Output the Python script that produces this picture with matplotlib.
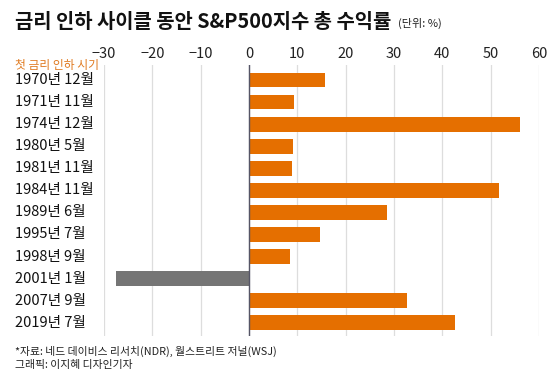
import matplotlib
matplotlib.use("Agg")
import matplotlib.pyplot as plt
import matplotlib.transforms as mtrans

plt.rcParams['font.family'] = ['Noto Sans CJK KR', 'DejaVu Sans']
plt.rcParams['axes.unicode_minus'] = True

categories = ["1970년 12월", "1971년 11월", "1974년 12월", "1980년 5월", "1981년 11월",
              "1984년 11월", "1989년 6월", "1995년 7월", "1998년 9월", "2001년 1월",
              "2007년 9월", "2019년 7월"]
values = [15.8, 9.4, 56.1, 9.1, 8.8, 51.7, 28.5, 14.6, 8.5, -27.6, 32.6, 42.7]
xticks = [-30, -20, -10, 0, 10, 20, 30, 40, 50, 60]

ORANGE = "#E56F00"
GREY = "#757575"

fig = plt.figure(figsize=(5.6, 3.81), dpi=100)
ax = fig.add_axes([104/560, 1-336/381, (539-104)/560, (336-65)/381])

colors = [ORANGE if v >= 0 else GREY for v in values]
ypos = list(range(len(categories)))
ax.barh(ypos, values, height=0.67, color=colors, zorder=3)

ax.set_xlim(-30, 60)
ax.set_ylim(len(categories) - 0.4, -0.68)
ax.set_xticks(xticks)
ax.set_xticklabels([f"{t}".replace("-", "\u2212") for t in xticks])
ax.xaxis.tick_top()
ax.tick_params(axis='x', length=0, pad=3, labelsize=10.5, labelcolor="#222222")
ax.set_yticks([])

trans = mtrans.blended_transform_factory(fig.transFigure, ax.transData)
for y, lab in zip(ypos, categories):
    ax.text(15/560, y, lab, transform=trans, ha='left', va='center',
            fontsize=10.5, color="#111111", clip_on=False)

ax.grid(axis='x', color="#DDDDDD", linewidth=0.9, zorder=0)
ax.grid(axis='y', visible=False)
for s in ax.spines.values():
    s.set_visible(False)
ax.axvline(0, color="#555566", linewidth=1.0, zorder=4)

fig.text(15/560, 1-22/381, "금리 인하 사이클 동안 S&P500지수 총 수익률", fontsize=14.3,
         fontweight='bold', ha='left', va='center', color="#111111")
fig.text(398/560, 1-23/381, "(단위: %)", fontsize=8, ha='left', va='center', color="#222222")
fig.text(15/560, 1-65/381, "첫 금리 인하 시기", fontsize=8.5, ha='left', va='center', color="#E07A20")
fig.text(15/560, 1-351/381, "*자료: 네드 데이비스 리서치(NDR), 월스트리트 저널(WSJ)", fontsize=7.8,
         ha='left', va='center', color="#222222")
fig.text(15/560, 1-365/381, "그래픽: 이지혜 디자인기자", fontsize=7.8,
         ha='left', va='center', color="#222222")

fig.savefig("out.png", dpi=100)
